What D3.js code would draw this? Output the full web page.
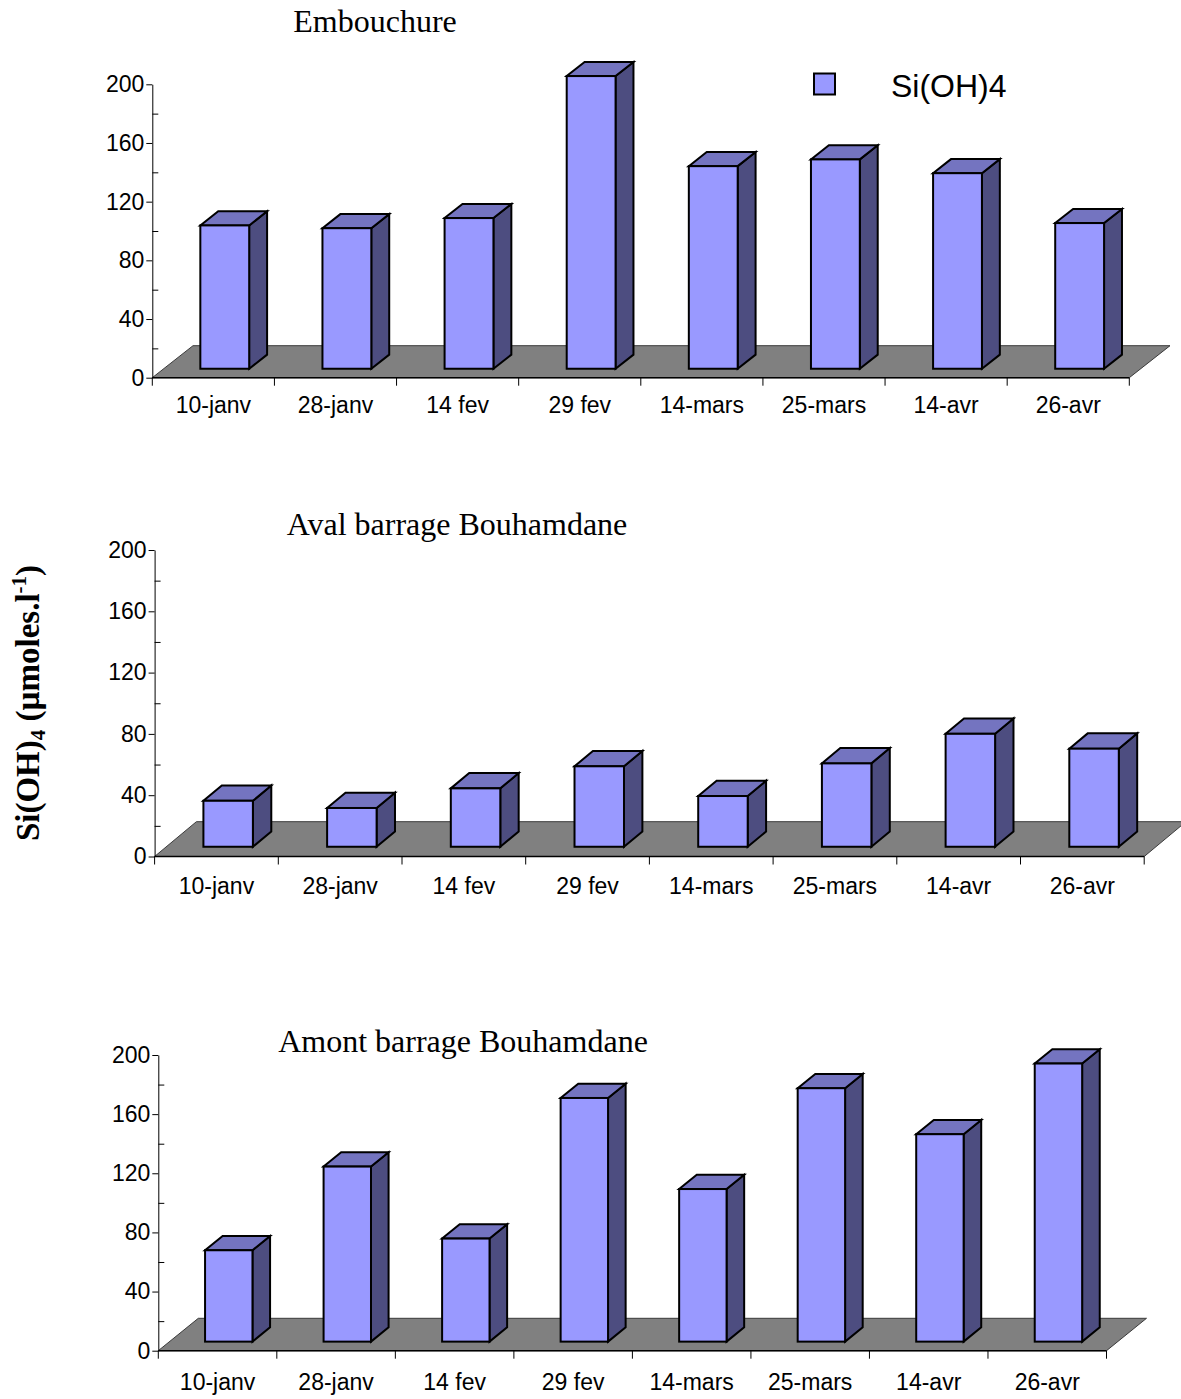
<!DOCTYPE html>
<html>
<head>
<meta charset="utf-8">
<script src="https://cdn.jsdelivr.net/npm/d3@7/dist/d3.min.js"></script>
<style>
  html, body { margin: 0; padding: 0; background: #fff; }
  svg { display: block; }
</style>
</head>
<body>
<svg id="chart" width="1181" height="1399"></svg>
<script>
// Sampling dates (shared by all three stations)
const categories = ["10-janv", "28-janv", "14 fev", "29 fev", "14-mars", "25-mars", "14-avr", "26-avr"];

// Si(OH)4 concentrations, µmoles/l
const embouchure = [97.7, 95.8, 102.7, 199.5, 138.1, 142.7, 133.3, 99.3];
const avalBarrage = [30.0, 25.3, 38.1, 52.5, 33.1, 54.4, 73.7, 64.0];
const amontBarrage = [61.8, 118.4, 69.7, 164.8, 103.2, 171.4, 140.3, 188.1];

// Value axis
const majorTicks = [0, 40, 80, 120, 160, 200];
const minorTicks = [20, 60, 100, 140, 180];
const seriesName = "Si(OH)4";

// Panel layout (pixel geometry of each 3-D column panel)
const panels = [
  { title: "Embouchure", values: embouchure,
    x0: 152.3, x1: 1129.3, yZero: 377.7, yTop: 84.3, dx: 40.7, dy: -32,
    titleX: 375, titleY: 32, labelY: 413 },
  { title: "Aval barrage Bouhamdane", values: avalBarrage,
    x0: 154.6, x1: 1144.2, yZero: 856.5, yTop: 550, dx: 41.8, dy: -34.8,
    titleX: 457, titleY: 535, labelY: 894 },
  { title: "Amont barrage Bouhamdane", values: amontBarrage,
    x0: 158.3, x1: 1106.5, yZero: 1350.7, yTop: 1055, dx: 40, dy: -32.4,
    titleX: 463, titleY: 1052, labelY: 1389.5 }
];

const SANS = "Arial, 'Liberation Sans', sans-serif";
const SERIF = "'Times New Roman', 'Liberation Serif', serif";
const COL_FRONT = "#9999ff", COL_TOP = "#7474c0", COL_SIDE = "#4d4d80", COL_FLOOR = "#808080";

// Depth position of the columns inside the floor (fractions of floor depth)
const depthFront = 0.28, depthBack = 0.72;

const svg = d3.select("#chart");

function pts(arr) { return arr.map(p => p.join(",")).join(" "); }

panels.forEach(p => {
  const g = svg.append("g");

  const x = d3.scaleBand().domain(categories).range([p.x0, p.x1])
    .paddingInner(0.6).paddingOuter(0.3);
  const step = x.step();
  const y = d3.scaleLinear().domain([0, 200]).range([p.yZero, p.yTop]);

  // Floor
  g.append("polygon")
    .attr("points", pts([[p.x0, p.yZero], [p.x1, p.yZero], [p.x1 + p.dx, p.yZero + p.dy], [p.x0 + p.dx, p.yZero + p.dy]]))
    .attr("fill", COL_FLOOR).attr("stroke", "#3a3a3a").attr("stroke-width", 1);

  // Columns
  const fdx = p.dx * depthFront, fdy = p.dy * depthFront;
  const bdx = p.dx * (depthBack - depthFront), bdy = p.dy * (depthBack - depthFront);
  const bars = g.selectAll("g.bar").data(p.values.map((v, i) => ({ v, c: categories[i] })))
    .enter().append("g").attr("class", "bar");
  bars.each(function (d) {
    const b = d3.select(this);
    const L = x(d.c) + fdx, R = L + x.bandwidth();
    const B = y(0) + fdy, T = y(d.v) + fdy;
    const stroke = { "stroke": "#000", "stroke-width": 2, "stroke-linejoin": "miter" };
    const side = b.append("polygon").attr("points", pts([[R, B], [R + bdx, B + bdy], [R + bdx, T + bdy], [R, T]])).attr("fill", COL_SIDE);
    const top = b.append("polygon").attr("points", pts([[L, T], [R, T], [R + bdx, T + bdy], [L + bdx, T + bdy]])).attr("fill", COL_TOP);
    const front = b.append("rect").attr("x", L).attr("y", T).attr("width", R - L).attr("height", B - T).attr("fill", COL_FRONT);
    [side, top, front].forEach(s => Object.entries(stroke).forEach(([k, val]) => s.attr(k, val)));
  });

  // Category axis: front floor edge, boundary ticks, labels
  g.append("line").attr("x1", p.x0).attr("x2", p.x1).attr("y1", p.yZero).attr("y2", p.yZero)
    .attr("stroke", "#000").attr("stroke-width", 1.5);
  d3.range(categories.length + 1).forEach(i => {
    const tx = p.x0 + i * step;
    g.append("line").attr("x1", tx).attr("x2", tx).attr("y1", p.yZero).attr("y2", p.yZero + 8)
      .attr("stroke", "#000").attr("stroke-width", 1);
  });
  g.selectAll("text.cat").data(categories).enter().append("text")
    .attr("class", "cat")
    .attr("x", d => x(d) + x.bandwidth() / 2)
    .attr("y", p.labelY)
    .attr("text-anchor", "middle")
    .attr("font-family", SANS).attr("font-size", 23).attr("fill", "#000")
    .text(d => d);

  // Value axis: major ticks outside with labels, minor ticks inside
  const yAxis = d3.axisLeft(y).tickValues(majorTicks).tickSize(6).tickPadding(2).tickSizeOuter(0);
  const ya = g.append("g").attr("transform", `translate(${p.x0},0)`).call(yAxis);
  ya.select(".domain").attr("stroke", "#000").attr("stroke-width", 1);
  ya.selectAll(".tick line").attr("stroke", "#000");
  ya.selectAll(".tick text").attr("font-family", SANS).attr("font-size", 23).attr("fill", "#000");
  const yMinor = d3.axisRight(y).tickValues(minorTicks).tickSize(6).tickFormat("").tickSizeOuter(0);
  const ym = g.append("g").attr("transform", `translate(${p.x0},0)`).call(yMinor);
  ym.select(".domain").remove();
  ym.selectAll(".tick line").attr("stroke", "#000");

  // Panel title
  g.append("text").attr("x", p.titleX).attr("y", p.titleY).attr("text-anchor", "middle")
    .attr("font-family", SERIF).attr("font-size", 32).attr("fill", "#000").text(p.title);
});

// Legend
const legend = svg.append("g");
legend.append("rect").attr("x", 814).attr("y", 73.5).attr("width", 21).attr("height", 21)
  .attr("fill", COL_FRONT).attr("stroke", "#000").attr("stroke-width", 2);
legend.append("text").attr("x", 891).attr("y", 96.5)
  .attr("font-family", SANS).attr("font-size", 32).attr("fill", "#000").text(seriesName);

// Shared value-axis title
const yt = svg.append("text")
  .attr("transform", "translate(39,703) rotate(-90)")
  .attr("text-anchor", "middle")
  .attr("font-family", SERIF).attr("font-weight", "bold").attr("font-size", 33).attr("fill", "#000");
yt.append("tspan").text("Si(OH)");
yt.append("tspan").attr("font-size", 21).attr("dy", 6).text("4");
yt.append("tspan").attr("dy", -6).text(" (µmoles.l");
yt.append("tspan").attr("font-size", 21).attr("dy", -13).text("-1");
yt.append("tspan").attr("dy", 13).text(")");
</script>
</body>
</html>
